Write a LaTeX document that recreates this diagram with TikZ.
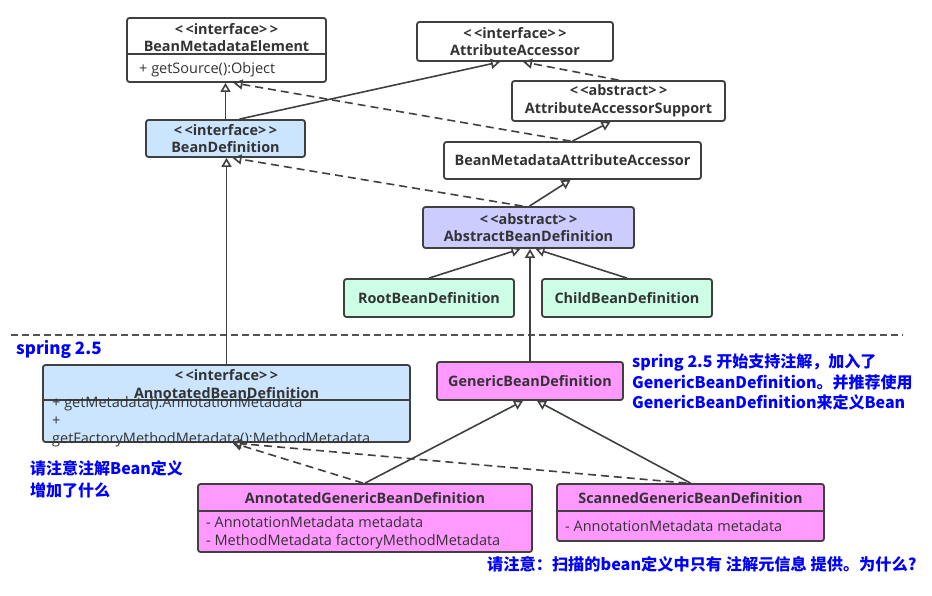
\documentclass[tikz,border=0pt]{standalone}
\usepackage{fontspec}
\setmainfont{Open Sans}
\newfontfamily\cjk{Noto Sans CJK SC}
\usepackage{tikz}
\usetikzlibrary{arrows.meta, positioning, calc}
\definecolor{linec}{HTML}{404040}
\definecolor{textc}{HTML}{333333}
\definecolor{ifblue}{HTML}{CCE5FF}
\definecolor{absblue}{HTML}{CCCCFF}
\definecolor{leafgreen}{HTML}{CCFFE6}
\definecolor{genpink}{HTML}{FF99FF}
\newcommand{\stereo}[1]{<\,<#1>\,>}

\begin{document}
\begin{tikzpicture}[x=1pt, y=-1pt,
    cls/.style={draw=linec, line width=1.8pt, rounded corners=2.5pt, fill=white, inner sep=0pt,
      text=textc, align=center, font=\bfseries\fontsize{14.4}{17.5}\selectfont},
    head/.style={inner sep=0pt, text=textc, align=center, font=\bfseries\fontsize{14.4}{17.5}\selectfont},
    mem/.style={inner sep=0pt, anchor=west, text=textc, align=left, font=\fontsize{14.5}{18.5}\selectfont},
    note/.style={inner sep=0pt, anchor=west, text=blue, align=left, font=\cjk\bfseries\fontsize{16}{20.5}\selectfont},
    inh/.style={draw=linec, line width=1.6pt, -{Triangle[open, length=9pt, width=10pt]}},
    impl/.style={inh, dash pattern=on 8pt off 5pt},
    sep/.style={draw=linec!90, line width=2pt, dash pattern=on 7pt off 4pt}]
    \useasboundingbox (0,0) rectangle (932,596);
    % upper part
    \node [cls, minimum width=199pt, minimum height=64pt] (bme) at (226.5,50) {};
    \node [head] (bmeh) at (226.5,37.5) {\stereo{interface}\\BeanMetadataElement};
    \draw [draw=linec, line width=1.8pt] ([yshift=-37pt]bme.north west) -- ([yshift=-37pt]bme.north east);
    \node [mem] (bmem) at (139,70) {+ getSource():Object};
    \node [cls, minimum width=196pt, minimum height=39pt] (aa) at (515,41.5) {\stereo{interface}\\AttributeAccessor};
    \node [cls, minimum width=213pt, minimum height=40pt] (aas) at (618.5,101) {\stereo{abstract}\\AttributeAccessorSupport};
    \node [cls, fill=ifblue, minimum width=159pt, minimum height=37pt] (bd) at (225.5,138.5) {\stereo{interface}\\BeanDefinition};
    \node [cls, minimum width=257pt, minimum height=37pt] (bmaa) at (572.5,160.5) {BeanMetadataAttributeAccessor};
    \node [cls, fill=absblue, minimum width=211pt, minimum height=41pt] (abd) at (528.5,227.5) {\stereo{abstract}\\AbstractBeanDefinition};
    \node [cls, fill=leafgreen, minimum width=170pt, minimum height=38pt] (root) at (429,298) {RootBeanDefinition};
    \node [cls, fill=leafgreen, minimum width=170pt, minimum height=38pt] (child) at (627,298) {ChildBeanDefinition};
    % spring 2.5 part
    \coordinate (sepl) at (11,335);
    \coordinate (sepr) at (903,335);
    \draw [sep] (sepl) -- (sepr);
    \node [cls, fill=ifblue, minimum width=367pt, minimum height=77pt] (abdef) at (226.5,403.5) {};
    \node [head] (abdefh) at (226.5,384) {\stereo{interface}\\AnnotatedBeanDefinition};
    \draw [draw=linec, line width=1.8pt] ([yshift=-36pt]abdef.north west) -- ([yshift=-36pt]abdef.north east);
    \node [mem, font=\fontsize{14.5}{18}\selectfont] (abdefm) at (52,422) {+ getMetadata():AnnotationMetadata\\+\\getFactoryMethodMetadata():MethodMetadata};
    \node [cls, fill=genpink, minimum width=186pt, minimum height=38pt] (generic) at (530,381) {GenericBeanDefinition};
    \node [cls, fill=genpink, minimum width=334pt, minimum height=68pt] (agbd) at (365,518) {};
    \node [head] (agbdh) at (365,498) {AnnotatedGenericBeanDefinition};
    \draw [draw=linec, line width=1.8pt] ([yshift=-28pt]agbd.north west) -- ([yshift=-28pt]agbd.north east);
    \node [mem] (agbdm) at (206,532.5) {- AnnotationMetadata metadata\\- MethodMetadata factoryMethodMetadata};
    \node [cls, fill=genpink, minimum width=267pt, minimum height=57pt] (sgbd) at (690.5,512.5) {};
    \node [head] (sgbdh) at (690.5,498) {ScannedGenericBeanDefinition};
    \draw [draw=linec, line width=1.8pt] ([yshift=-28pt]sgbd.north west) -- ([yshift=-28pt]sgbd.north east);
    \node [mem] (sgbdm) at (565,526) {- AnnotationMetadata metadata};
    % connectors
    \draw [inh] (bd.north) -- (bd.north |- bme.south);
    \draw [inh] ([xshift=14pt]bd.north) -- ([xshift=-15pt]aa.south);
    \draw [impl] ([xshift=-2pt]bmaa.north) -- ([xshift=7pt]bme.south);
    \draw [inh] (bmaa.north) -- ([xshift=-8pt]aas.south);
    \draw [impl] (aas.north) -- ([xshift=8pt]aa.south);
    \draw [inh] ([xshift=1pt]abd.north) -- ([xshift=-2pt]bmaa.south);
    \draw [impl] ([xshift=-6pt]abd.north) -- ([xshift=7pt]bd.south);
    \draw [inh] (root.north) -- ([xshift=-8pt]abd.south);
    \draw [inh] (child.north) -- ([xshift=7pt]abd.south);
    \draw [inh] (generic.north) -- (generic.north |- abd.south);
    \draw [inh] (abdef.north) -- (abdef.north |- bd.south);
    \draw [inh] (agbd.north) -- ([xshift=-7pt]generic.south);
    \draw [inh] (sgbd.north) -- ([xshift=7pt]generic.south);
    \draw [impl] ([xshift=-2pt]agbd.north) -- ([xshift=6pt]abdef.south);
    \draw [impl] ([xshift=-4pt]sgbd.north) -- ([xshift=6pt]abdef.south);
    % notes
    \node [note, font=\cjk\bfseries\fontsize{17}{20}\selectfont] (n25) at (16,349) {spring 2.5};
    \node [note] (ngeneric) at (632,382) {spring 2.5 开始支持注解，加入了\\GenericBeanDefinition。并推荐使用\\GenericBeanDefinition来定义Bean};
    \node [note, font=\cjk\bfseries\fontsize{16}{22}\selectfont] (nannot) at (30,479) {请注意注解Bean定义\\增加了什么};
    \node [note, font=\cjk\bfseries\fontsize{16.2}{20}\selectfont] (nscan) at (487,564) {请注意：扫描的bean定义中只有 注解元信息 提供。为什么?};
\end{tikzpicture}
\end{document}
